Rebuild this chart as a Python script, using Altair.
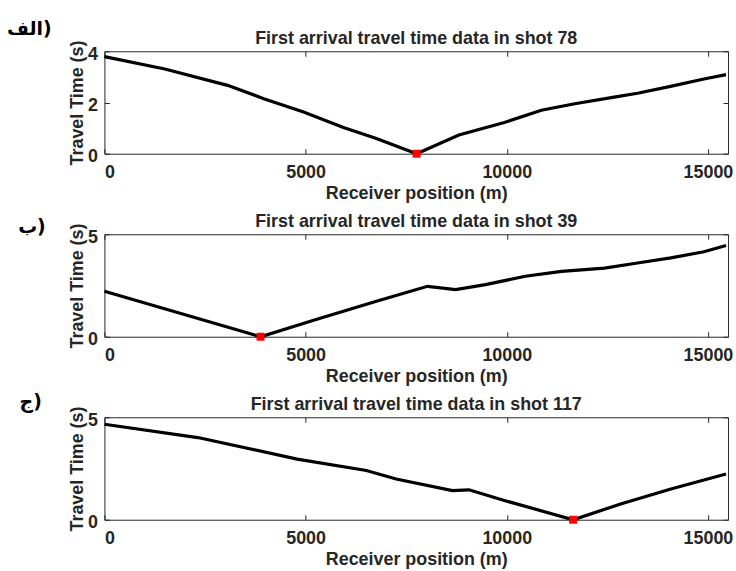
import altair as alt
import pandas as pd

# Receiver positions (m) and first-arrival travel times (s) for each shot
pos_78 = [0, 1500, 3060, 3960, 4950, 5940, 6760, 7760, 8810, 9940, 10860, 11690, 12670, 13250, 14070, 14900, 15450]
time_78 = [3.79, 3.31, 2.67, 2.15, 1.63, 1.02, 0.59, 0.0, 0.73, 1.22, 1.70, 1.95, 2.21, 2.36, 2.63, 2.92, 3.09]

pos_39 = [0, 3880, 5200, 6760, 8030, 8730, 9470, 10460, 11360, 12430, 13250, 14080, 14900, 15450]
time_39 = [2.22, 0.0, 0.80, 1.73, 2.46, 2.30, 2.54, 2.95, 3.19, 3.35, 3.60, 3.85, 4.15, 4.45]

pos_117 = [0, 2320, 4790, 6510, 7250, 8650, 9060, 9940, 11650, 12850, 14080, 15450]
time_117 = [4.66, 4.01, 2.96, 2.40, 1.99, 1.42, 1.46, 0.94, 0.0, 0.78, 1.50, 2.23]

# Shot (source) positions marked in red
shot_pos = [7760, 3880, 11650]

shots = [78, 39, 117]
panel_titles = [f"First arrival travel time data in shot {s}" for s in shots]
panel_labels = ["الف)", "ب)", "ج)"]
label_dx = [-53, -59, -63]
label_dy = [-16, -1, -9]
y_max = [4, 5, 5]
y_ticks = [[0, 2, 4], [0, 5], [0, 5]]
x_ticks = [0, 5000, 10000, 15000]
X_MAX = 15500

W, H = 627, 103
INK = "#262626"
FONT = "Liberation Sans"
FS = 18


def panel(pos, tt, src, title, label, dx, dy, ymax, yt):
    df = pd.DataFrame({"pos": pos, "t": tt})
    src_df = pd.DataFrame({"pos": [src], "t": [0.0]})
    xs = alt.Scale(domain=[0, X_MAX], nice=False, zero=False)
    ys = alt.Scale(domain=[0, ymax], nice=False)

    x_bottom = alt.Axis(values=x_ticks, title="Receiver position (m)", orient="bottom",
                        offset=-5, domain=False, tickSize=5, tickColor=INK, grid=False,
                        labelPadding=10, labelFont=FONT, labelFontSize=FS, labelFontWeight="bold",
                        labelColor=INK, titleFont=FONT, titleFontSize=FS, titleFontWeight="bold",
                        titleColor=INK, titlePadding=3, format="d")
    y_left = alt.Axis(values=yt, title="Travel Time (s)", orient="left",
                      offset=-5, domain=False, tickSize=5, tickColor=INK, grid=False,
                      labelPadding=7, labelFont=FONT, labelFontSize=FS, labelFontWeight="bold",
                      labelColor=INK, labelOffset=3, titleFont=FONT, titleFontSize=FS,
                      titleFontWeight="bold", titleColor=INK, titlePadding=1)
    x_top = alt.Axis(values=x_ticks, title=None, orient="top", offset=-5, domain=False,
                     tickSize=5, tickColor=INK, labels=False, grid=False)
    y_right = alt.Axis(values=yt, title=None, orient="right", offset=-5, domain=False,
                       tickSize=5, tickColor=INK, labels=False, grid=False)

    line = alt.Chart(df).mark_line(color="black", strokeWidth=3.2).encode(
        x=alt.X("pos:Q", scale=xs, axis=x_bottom),
        y=alt.Y("t:Q", scale=ys, axis=y_left),
    )
    frame_axes = alt.Chart(df).mark_point(opacity=0).encode(
        x=alt.X("pos:Q", scale=xs, axis=x_top),
        y=alt.Y("t:Q", scale=ys, axis=y_right),
    )
    marker = alt.Chart(src_df).mark_square(color="#ff0000", size=64, opacity=1).encode(
        x=alt.X("pos:Q", scale=xs, axis=None),
        y=alt.Y("t:Q", scale=ys, axis=None),
    )
    heading = alt.Chart(pd.DataFrame({"txt": [title]})).mark_text(
        font=FONT, fontSize=FS, fontWeight="bold", align="center", baseline="alphabetic",
        color=INK,
    ).encode(x=alt.value(W / 2), y=alt.value(-7), text="txt:N")
    tag = alt.Chart(pd.DataFrame({"txt": [label]})).mark_text(
        font="DejaVu Sans", fontSize=19, fontWeight="bold", align="right", baseline="alphabetic",
        color="black",
    ).encode(x=alt.value(dx), y=alt.value(dy), text="txt:N")

    return alt.layer(line, frame_axes, marker, heading, tag).resolve_axis(
        x="independent", y="independent"
    ).properties(width=W, height=H)


panels = [
    panel(pos_78, time_78, shot_pos[0], panel_titles[0], panel_labels[0], label_dx[0], label_dy[0], y_max[0], y_ticks[0]),
    panel(pos_39, time_39, shot_pos[1], panel_titles[1], panel_labels[1], label_dx[1], label_dy[1], y_max[1], y_ticks[1]),
    panel(pos_117, time_117, shot_pos[2], panel_titles[2], panel_labels[2], label_dx[2], label_dy[2], y_max[2], y_ticks[2]),
]

chart = alt.vconcat(*panels, spacing=81, bounds="flush").properties(
    padding={"left": 6, "top": 18, "right": 2, "bottom": 0},
    background="white",
).configure_view(stroke=INK, strokeWidth=1)

chart.save("out.html", embed_options={"renderer": "svg", "actions": False})
